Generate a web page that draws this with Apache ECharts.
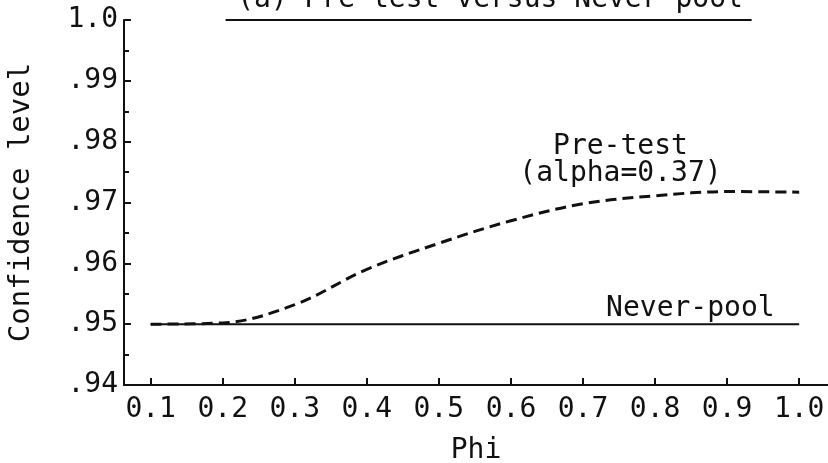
<!DOCTYPE html>
<html>
<head>
<meta charset="utf-8">
<script src="https://cdn.jsdelivr.net/npm/echarts@6/dist/echarts.min.js"></script>
<style>
  html, body { margin: 0; padding: 0; background: #fff; }
  #chart { width: 828px; height: 463px; }
</style>
</head>
<body>
<div id="chart"></div>
<script>
var phi = [0.1, 0.2, 0.3, 0.4, 0.5, 0.6, 0.7, 0.8, 0.9, 1.0];
var preTest = [0.9500, 0.9502, 0.9532, 0.9590, 0.9633, 0.9670, 0.9698, 0.9711, 0.9718, 0.9717];
var neverPool = [0.95, 0.95, 0.95, 0.95, 0.95, 0.95, 0.95, 0.95, 0.95, 0.95];
var xTicks = [0.1, 0.2, 0.3, 0.4, 0.5, 0.6, 0.7, 0.8, 0.9, 1.0];

var font = 'DejaVu Sans Mono';
var ink = '#111';

function pairs(xs, ys) {
  return xs.map(function (x, i) { return [x, ys[i]]; });
}

var chart = echarts.init(document.getElementById('chart'));

var option = {
  backgroundColor: '#fff',
  animation: false,
  graphic: [
    {
      type: 'text',
      x: 490,
      y: 0,
      style: {
        text: '(a) Pre-test versus Never-pool',
        font: '28px "' + font + '"',
        fill: ink,
        align: 'center',
        verticalAlign: 'middle'
      }
    }
  ],
  grid: { left: 124, right: 0, top: 20, bottom: 78, outerBoundsMode: 'none', containLabel: false },
  xAxis: {
    type: 'value',
    min: 0.063,
    max: 1.04,
    name: 'Phi',
    nameLocation: 'middle',
    nameGap: 52,
    nameTextStyle: { fontFamily: font, fontSize: 28, color: ink },
    axisLine: { onZero: false, lineStyle: { color: ink, width: 2 } },
    axisTick: { inside: true, length: 7, customValues: xTicks, lineStyle: { color: ink, width: 2 } },
    axisLabel: {
      customValues: xTicks,
      margin: 11,
      fontFamily: font,
      fontSize: 28,
      color: ink,
      formatter: function (v) { return v.toFixed(1); }
    },
    splitLine: { show: false }
  },
  yAxis: {
    type: 'value',
    min: 0.94,
    max: 1.0,
    interval: 0.01,
    name: 'Confidence level',
    nameLocation: 'middle',
    nameGap: 88,
    nameTextStyle: { fontFamily: font, fontSize: 29, color: ink },
    axisLine: { lineStyle: { color: ink, width: 2 } },
    axisTick: { inside: true, length: 7, lineStyle: { color: ink, width: 2 } },
    minorTick: { show: true, splitNumber: 2, length: 5, lineStyle: { color: ink, width: 2 } },
    axisLabel: {
      margin: 6,
      fontFamily: font,
      fontSize: 28,
      color: ink,
      formatter: function (v) {
        if (Math.abs(v - 1) < 1e-9) return '1.0';
        return v.toFixed(2).replace(/^0/, '');
      }
    },
    splitLine: { show: false }
  },
  series: [
    {
      name: 'Pre-test',
      type: 'line',
      data: pairs(phi, preTest),
      smooth: 0.35,
      showSymbol: false,
      lineStyle: { color: ink, width: 3, type: [11, 6] },
      markPoint: {
        symbolSize: 0,
        label: {
          show: true,
          position: 'inside',
          fontFamily: font,
          fontSize: 28,
          lineHeight: 27,
          color: ink,
          formatter: 'Pre-test\n(alpha=0.37)'
        },
        data: [{ coord: [0.752, 0.9769] }]
      }
    },
    {
      name: 'Never-pool',
      type: 'line',
      data: pairs(phi, neverPool),
      showSymbol: false,
      lineStyle: { color: ink, width: 2 },
      markPoint: {
        symbolSize: 0,
        label: {
          show: true,
          position: 'inside',
          fontFamily: font,
          fontSize: 28,
          color: ink,
          formatter: 'Never-pool'
        },
        data: [{ coord: [0.849, 0.9526] }]
      },
      markLine: {
        silent: true,
        symbol: 'none',
        label: { show: false },
        lineStyle: { color: ink, width: 2, type: 'solid' },
        data: [[{ coord: [0.204, 1.0] }, { coord: [0.934, 1.0] }]]
      }
    }
  ]
};

chart.setOption(option);
</script>
</body>
</html>
